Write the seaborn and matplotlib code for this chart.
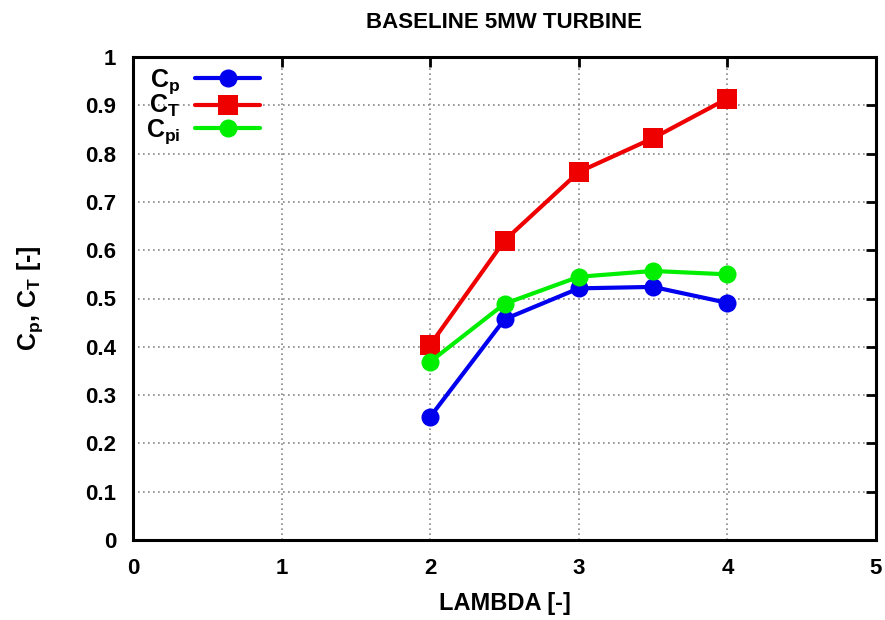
import numpy as np
import pandas as pd
import seaborn as sns
import matplotlib
matplotlib.use("Agg")
import matplotlib.pyplot as plt

lam = [2.0, 2.5, 3.0, 3.5, 4.0]
cp = [0.255, 0.457, 0.521, 0.524, 0.491]
ct = [0.404, 0.620, 0.762, 0.832, 0.914]
cpi = [0.369, 0.489, 0.545, 0.557, 0.550]

sns.set_theme(style="white")
plt.rcParams['font.family'] = ['Liberation Sans', 'DejaVu Sans']
plt.rcParams['font.weight'] = 'bold'
plt.rcParams['text.color'] = 'black'
plt.rcParams['axes.labelcolor'] = 'black'
plt.rcParams['mathtext.fontset'] = 'custom'
plt.rcParams['mathtext.rm'] = 'Liberation Sans:bold'
plt.rcParams['mathtext.it'] = 'Liberation Sans:bold'
plt.rcParams['mathtext.bf'] = 'Liberation Sans:bold'
plt.rcParams['mathtext.default'] = 'rm'

fig = plt.figure(figsize=(8.85, 6.2), dpi=100)
ax = fig.add_axes([133/885, 1-540/620, (876-133)/885, (540-57)/620])

series = [("$C_p$", cp, "#0000ee", "o", 13),
          ("$C_T$", ct, "#ee0000", "s", 14),
          ("$C_{pi}$", cpi, "#00ee00", "o", 13)]
for name, vals, col, mk, ms in series:
    df = pd.DataFrame({"lam": lam, "val": vals})
    sns.lineplot(data=df, x="lam", y="val", ax=ax, color=col, marker=mk,
                 markersize=ms, markeredgewidth=0, linewidth=3, label=name)

ax.set_xlim(0, 5)
ax.set_ylim(0, 1)
ax.set_xticks([0, 1, 2, 3, 4, 5])
ax.set_yticks(np.round(np.arange(0, 1.01, 0.1), 1))
ax.set_yticklabels(["0"] + [f"{v:.1f}" for v in np.arange(0.1, 0.95, 0.1)] + ["1"])
ax.grid(True, color="#888888", linestyle=(0, (1, 2)), linewidth=1.2)
for s in ax.spines.values():
    s.set_visible(True)
    s.set_color("black")
    s.set_linewidth(2.2)
ax.tick_params(direction="in", length=7, width=2, top=True, right=True,
               labelsize=16, colors="black")
ax.tick_params(axis="x", pad=13)
ax.tick_params(axis="y", pad=12)
for lbl in ax.get_xticklabels() + ax.get_yticklabels():
    lbl.set_fontweight("bold")
    lbl.set_color("black")

ax.set_xlabel("LAMBDA [-]", fontsize=17, fontweight="bold", labelpad=9,
              color="black")
ax.set_ylabel("$C_p$, $C_T$ [-]", fontsize=18, fontweight="bold", labelpad=29,
              color="black")
ax.set_title("BASELINE 5MW TURBINE", fontsize=16, fontweight="bold", pad=21,
             color="black")

leg = ax.legend(loc="upper left", markerfirst=False, frameon=False,
                fontsize=18, handlelength=2.6, labelspacing=-0.1,
                borderaxespad=0.1, handletextpad=0.6,
                bbox_to_anchor=(0.0, 1.005))
for t in leg.get_texts():
    t.set_ha("right")
    t.set_color("black")

fig.savefig("out.png", dpi=100)
